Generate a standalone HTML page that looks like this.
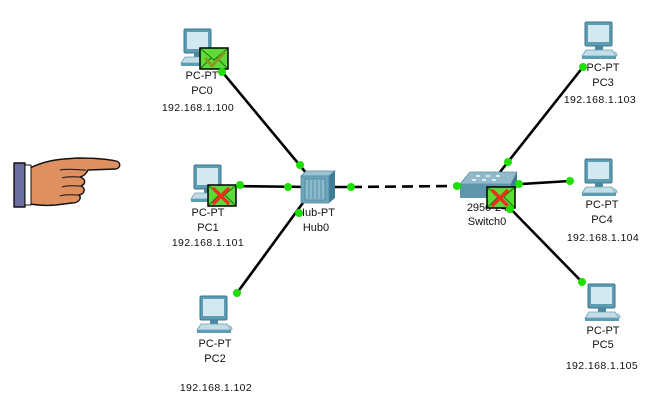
<!DOCTYPE html>
<html><head><meta charset="utf-8">
<style>
html,body{margin:0;padding:0;background:#fff;}
svg{display:block;}
text{font-family:"Liberation Sans",sans-serif;font-size:11px;fill:#111;}
.ip{font-size:10.5px;letter-spacing:0.4px;}
</style></head>
<body>
<svg width="663" height="405" viewBox="0 0 663 405" xmlns="http://www.w3.org/2000/svg">
<defs>
  <g id="pc">
    <rect x="3" y="0" width="27" height="24" rx="1.5" fill="#5d9db4" stroke="#3b7488" stroke-width="1"/>
    <rect x="6" y="3" width="21" height="17" fill="#d3e9f1"/>
    <rect x="13" y="24" width="8" height="4" fill="#4b879d"/>
    <polygon points="0,34 4,28 30,28 34,34" fill="#c3dde7" stroke="#6aa0b4" stroke-width="0.8"/>
    <rect x="0" y="34" width="34" height="3" fill="#5d9db4"/>
    <path d="M31,30 q4,0 4,4" fill="none" stroke="#8fb8c8" stroke-width="1.2"/>
  </g>
  <g id="env">
    <rect x="0" y="0" width="28" height="21" fill="#5ddc38" stroke="#000" stroke-width="1.5"/>
    <polyline points="1,1 14,12 27,1" fill="none" stroke="#1d6a10" stroke-width="1"/>
    <line x1="1" y1="20" x2="11" y2="10" stroke="#1d6a10" stroke-width="1"/>
    <line x1="27" y1="20" x2="17" y2="10" stroke="#1d6a10" stroke-width="1"/>
  </g>
  <g id="xmark">
    <line x1="6" y1="4" x2="20" y2="18" stroke="#e8321e" stroke-width="3.5" stroke-linecap="round"/>
    <line x1="20" y1="4" x2="6" y2="18" stroke="#e8321e" stroke-width="3.5" stroke-linecap="round"/>
  </g>
</defs>

<!-- connections -->
<g stroke="#000" stroke-width="2.6" fill="none">
  <line x1="214" y1="62" x2="312" y2="180"/>
  <line x1="225" y1="186" x2="310" y2="187"/>
  <line x1="237" y1="293" x2="305" y2="200"/>
  <line x1="351" y1="187" x2="457" y2="186" stroke-dasharray="11,6"/>
  <line x1="583" y1="67" x2="500" y2="172"/>
  <line x1="570" y1="181" x2="505" y2="185"/>
  <line x1="582" y1="282" x2="500" y2="198"/>
  <line x1="330" y1="187" x2="351" y2="187"/>
  <line x1="457" y1="186" x2="470" y2="186"/>
</g>

<!-- PCs -->
<use href="#pc" x="181" y="29"/>
<use href="#pc" x="191" y="165"/>
<use href="#pc" x="197" y="296"/>
<use href="#pc" x="582" y="22"/>
<use href="#pc" x="582" y="159"/>
<use href="#pc" x="585" y="284"/>

<!-- Hub -->
<g>
  <polygon points="301,176 306,171 335,171 329,176" fill="#9cc3d2" stroke="#4f8aa0" stroke-width="0.8"/>
  <polygon points="329,176 335,171 335,198 329,203" fill="#3f7d94"/>
  <rect x="301" y="176" width="28" height="27" fill="#6ea7bc" stroke="#4f8aa0" stroke-width="0.8"/>
  <rect x="305" y="179" width="20" height="21" fill="#8bbccd" stroke="#4a8296" stroke-width="0.8"/>
  <g stroke="#4a8296" stroke-width="0.8">
    <line x1="309" y1="180" x2="309" y2="199"/>
    <line x1="313" y1="180" x2="313" y2="199"/>
    <line x1="317" y1="180" x2="317" y2="199"/>
    <line x1="321" y1="180" x2="321" y2="199"/>
  </g>
</g>

<!-- Switch -->
<g>
  <polygon points="470,172 517,172 511,184 460,184" fill="#93bacb" stroke="#5b91a6" stroke-width="0.8"/>
  <rect x="460" y="184" width="51" height="14" fill="#5f96ab"/>
  <polygon points="511,184 517,172 517,187 511,198" fill="#3f7b92"/>
  <g fill="#dcecf2">
    <rect x="476" y="175" width="4" height="2"/><rect x="486" y="175" width="4" height="2"/><rect x="496" y="175" width="4" height="2"/>
    <rect x="472" y="179" width="4" height="2"/><rect x="482" y="179" width="4" height="2"/><rect x="492" y="179" width="4" height="2"/>
  </g>
</g>

<!-- labels -->
<g text-anchor="middle">
  <text x="202" y="79">PC-PT</text>
  <text x="202" y="94">PC0</text>
  <text x="198" y="111" class="ip">192.168.1.100</text>

  <text x="208" y="216">PC-PT</text>
  <text x="208" y="231">PC1</text>
  <text x="208" y="246" class="ip">192.168.1.101</text>

  <text x="215" y="347">PC-PT</text>
  <text x="215" y="362">PC2</text>
  <text x="216" y="391" class="ip">192.168.1.102</text>

  <text x="316" y="216">Hub-PT</text>
  <text x="316" y="231">Hub0</text>

  <text x="487" y="211">2950-24</text>
  <text x="487" y="225">Switch0</text>

  <text x="603" y="71">PC-PT</text>
  <text x="603" y="86">PC3</text>
  <text x="600" y="103" class="ip">192.168.1.103</text>

  <text x="602" y="208">PC-PT</text>
  <text x="602" y="223">PC4</text>
  <text x="603" y="241" class="ip">192.168.1.104</text>

  <text x="603" y="334">PC-PT</text>
  <text x="603" y="348">PC5</text>
  <text x="602" y="369" class="ip">192.168.1.105</text>
</g>

<!-- envelopes -->
<g transform="translate(200,48)">
  <use href="#env"/>
  <path d="M6,11 L12,18 L24,5" fill="none" stroke="#8a9a20" stroke-width="3" stroke-linecap="round" stroke-linejoin="round"/>
</g>
<g transform="translate(208,185)">
  <use href="#env"/><use href="#xmark"/>
</g>
<g transform="translate(487,187)">
  <use href="#env"/><use href="#xmark"/>
</g>

<!-- link dots -->
<g fill="#1ee000">
  <circle cx="222" cy="72" r="4"/>
  <circle cx="300" cy="165" r="4"/>
  <circle cx="240" cy="185" r="4"/>
  <circle cx="288" cy="187" r="4"/>
  <circle cx="237" cy="293" r="4"/>
  <circle cx="299" cy="213" r="4"/>
  <circle cx="351" cy="187" r="4"/>
  <circle cx="457" cy="186" r="4"/>
  <circle cx="508" cy="162" r="4"/>
  <circle cx="519" cy="184" r="4"/>
  <circle cx="510" cy="209" r="4"/>
  <circle cx="583" cy="67" r="4"/>
  <circle cx="570" cy="181" r="4"/>
  <circle cx="582" cy="282" r="4"/>
</g>

<!-- pointing hand -->
<g stroke="#111" stroke-width="1.4" stroke-linejoin="round">
  <path d="M30,168 C40,163 52,160 64,159 L78,158 C92,158 106,159 116,161 C121,162 121,168 116,169 L88,170 C86,174 84,176 80,177 C86,179 86,184 81,186 C86,188 85,194 79,195 C82,198 79,203 72,203 L56,205 C46,206 38,205 30,204 Z" fill="#df9060"/>
  <path d="M60,170 C68,168 76,170 86,170" fill="none" stroke-width="1"/>
  <path d="M62,178 C68,176 74,177 80,177" fill="none" stroke-width="1"/>
  <path d="M62,187 C68,185 74,186 81,186" fill="none" stroke-width="1"/>
  <path d="M60,196 C66,194 72,195 79,195" fill="none" stroke-width="1"/>
  <rect x="14" y="163" width="11" height="44" fill="#6b6e9f"/>
  <rect x="25" y="165" width="6" height="40" fill="#ffffff" stroke-width="1"/>
</g>
</svg>
</body></html>
